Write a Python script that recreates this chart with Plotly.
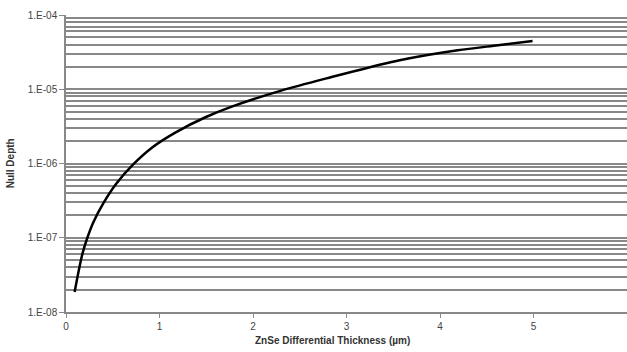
import plotly.graph_objects as go

# Data
thickness = [0.092, 0.135, 0.177, 0.223, 0.294, 0.397, 0.539, 0.716, 0.929,
             1.178, 1.497, 1.78, 2.31, 2.84, 3.23, 3.66, 4.19, 4.62, 4.99]
null_depth = [1.86e-8, 3.55e-8, 6.17e-8, 9.55e-8, 1.63e-7, 2.88e-7, 5.37e-7, 9.66e-7, 1.67e-6,
              2.65e-6, 4.23e-6, 5.89e-6, 9.66e-6, 1.46e-5, 1.95e-5, 2.59e-5, 3.35e-5,
              3.91e-5, 4.47e-5]

y_major = [1e-8, 1e-7, 1e-6, 1e-5, 1e-4]
y_major_text = ["1.E-08", "1.E-07", "1.E-06", "1.E-05", "1.E-04"]
y_minor = [m * d for d in [1e-8, 1e-7, 1e-6, 1e-5] for m in range(2, 10)]
x_ticks = [0, 1, 2, 3, 4, 5, 6]

grid_col = "#888888"
font_fam = "Liberation Sans, Arial, sans-serif"

fig = go.Figure()
fig.add_trace(go.Scatter(x=thickness, y=null_depth, mode="lines",
                         line=dict(color="black", width=2.5, shape="spline", smoothing=0.8),
                         showlegend=False))

fig.update_layout(
    width=627, height=352,
    margin=dict(l=66, r=0, t=15, b=40),
    paper_bgcolor="white", plot_bgcolor="white",
    font=dict(family=font_fam, size=10, color="#333333"),
    xaxis=dict(range=[0, 6], tickvals=x_ticks, ticktext=[str(v) for v in x_ticks],
               showgrid=False, zeroline=False, showline=True, linecolor=grid_col,
               linewidth=1.5, ticks="outside", ticklen=4, tickcolor=grid_col,
               tickfont=dict(size=10, color="#444444")),
    yaxis=dict(type="log", range=[-8, -4], tickvals=y_major, ticktext=y_major_text,
               showgrid=True, gridcolor=grid_col, gridwidth=1.5,
               zeroline=False, showline=True, linecolor=grid_col, linewidth=1.5,
               ticks="outside", ticklen=5, tickcolor=grid_col,
               tickfont=dict(size=10, color="#444444"),
               minor=dict(tickvals=y_minor, showgrid=True, gridcolor=grid_col,
                          gridwidth=1.5, ticks="")),
    annotations=[
        dict(text="<b>ZnSe Differential Thickness (µm)</b>", xref="paper", yref="paper",
             x=(332 - 66) / (627 - 66), y=-(340 - 311.7) / 297, showarrow=False,
             xanchor="center", yanchor="middle", font=dict(size=10, color="#333333")),
        dict(text="<b>Null Depth</b>", xref="paper", yref="paper",
             x=-(66 - 10) / (627 - 66), y=(311.7 - 163) / 297, showarrow=False,
             textangle=-90, xanchor="center", yanchor="middle",
             font=dict(size=10, color="#333333")),
    ],
)

fig.write_html("out.html")
